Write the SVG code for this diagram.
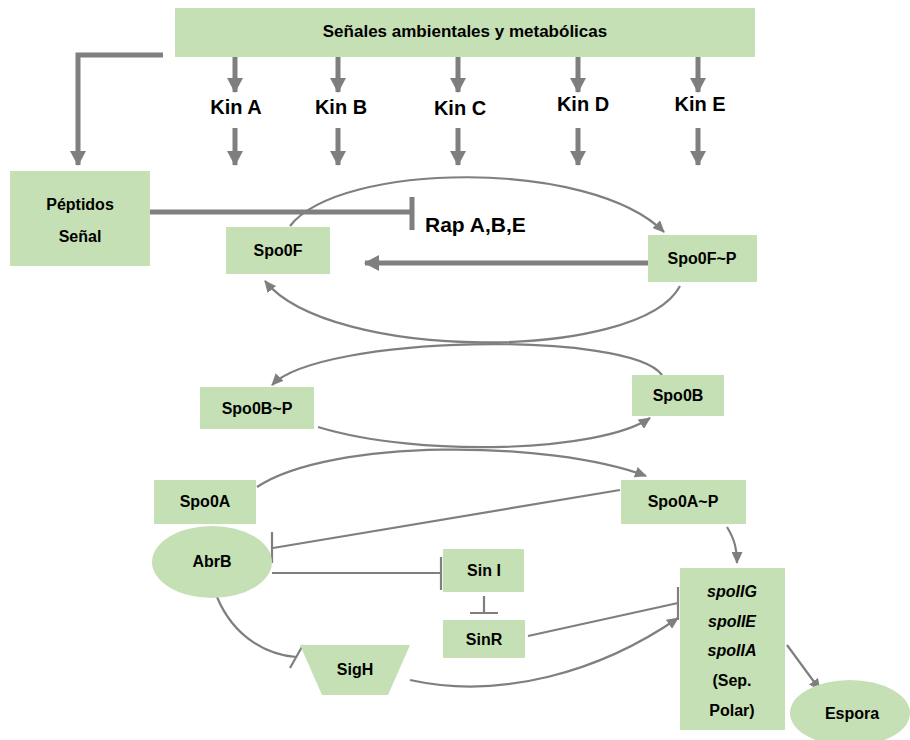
<svg xmlns="http://www.w3.org/2000/svg" width="910" height="740" viewBox="0 0 910 740">
<style>
.n{fill:#C5E0B4;stroke:none}
.t{font-family:"Liberation Sans",Arial,sans-serif;font-weight:bold;fill:#000;text-anchor:middle}
.s{font-size:16px}
.k{font-size:20px}
.thick{stroke:#7F7F7F;stroke-width:5;fill:none}
.thin{stroke:#7F7F7F;stroke-width:2.2;fill:none}
</style>
<defs>
<marker id="ah" markerUnits="userSpaceOnUse" markerWidth="16" markerHeight="16" refX="14" refY="8" orient="auto"><path d="M0,0 L15,8 L0,16 z" fill="#7F7F7F"/></marker>
<marker id="at" markerUnits="userSpaceOnUse" markerWidth="12" markerHeight="11" refX="11" refY="5.5" orient="auto"><path d="M0,0 L12,5.5 L0,11 z" fill="#7F7F7F"/></marker>
</defs>
<g id="connectors">
<path class="thick" d="M163,55 H78 V165" marker-end="url(#ah)"/>
<path class="thick" d="M235,57 V92" marker-end="url(#ah)"/>
<path class="thick" d="M338,57 V92" marker-end="url(#ah)"/>
<path class="thick" d="M458,57 V92" marker-end="url(#ah)"/>
<path class="thick" d="M578,57 V92" marker-end="url(#ah)"/>
<path class="thick" d="M698,57 V92" marker-end="url(#ah)"/>
<path class="thick" d="M235,128 V165" marker-end="url(#ah)"/>
<path class="thick" d="M338,128 V165" marker-end="url(#ah)"/>
<path class="thick" d="M458,128 V165" marker-end="url(#ah)"/>
<path class="thick" d="M578,128 V165" marker-end="url(#ah)"/>
<path class="thick" d="M698,128 V165" marker-end="url(#ah)"/>
<path class="thin" d="M290,226 C340,162 590,158 664,232" marker-end="url(#at)"/>
<path class="thin" d="M680,286 C640,362 330,362 265,281" marker-end="url(#at)"/>
<path class="thick" d="M648,263 H365" marker-end="url(#ah)"/>
<path class="thick" d="M150,212 H411 M412,197 V230"/>
<path class="thin" d="M662,375 C630,330 320,335 272,385" marker-end="url(#at)"/>
<path class="thin" d="M318,427 C420,458 600,452 650,418" marker-end="url(#at)"/>
<path class="thin" d="M257,487 C330,438 550,440 646,476" marker-end="url(#at)"/>
<path class="thin" d="M620,490 L273,548 M272,532 V563"/>
<path class="thin" d="M272,573 H441 M441,557 V590"/>
<path class="thin" d="M484,596 V613 M470,613 H498"/>
<path class="thin" d="M528,636 L678,603 M678,587 V620"/>
<path class="thin" d="M217,597 C235,640 270,655 296,657 M290,668 L303,645"/>
<path class="thin" d="M410,680 C500,700 600,672 678,618" marker-end="url(#at)"/>
<path class="thin" d="M727,527 C735,540 737,550 737,563" marker-end="url(#at)"/>
<path class="thin" d="M787,645 L820,690" marker-end="url(#at)"/>
</g>
<g id="senales"><rect class="n" x="175" y="8" width="580" height="49"/><text class="t" x="465" y="37" font-size="17">Señales ambientales y metabólicas</text></g>
<g id="kinA"><text class="t k" x="236" y="114">Kin A</text></g>
<g id="kinB"><text class="t k" x="341" y="114">Kin B</text></g>
<g id="kinC"><text class="t k" x="460" y="115">Kin C</text></g>
<g id="kinD"><text class="t k" x="583" y="111">Kin D</text></g>
<g id="kinE"><text class="t k" x="700" y="111">Kin E</text></g>
<g id="peptidos"><rect class="n" x="10" y="171" width="140" height="95"/><text class="t s" x="80" y="210">Péptidos</text><text class="t s" x="80" y="242">Señal</text></g>
<g id="rap"><text class="t" x="425" y="232" font-size="21" style="text-anchor:start">Rap A,B,E</text></g>
<g id="spo0F"><rect class="n" x="226" y="227" width="104" height="47"/><text class="t s" x="278" y="256">Spo0F</text></g>
<g id="spo0FP"><rect class="n" x="648" y="235" width="109" height="47"/><text class="t s" x="702" y="264">Spo0F~P</text></g>
<g id="spo0BP"><rect class="n" x="200" y="387" width="114" height="42"/><text class="t s" x="257" y="414">Spo0B~P</text></g>
<g id="spo0B"><rect class="n" x="632" y="375" width="92" height="41"/><text class="t s" x="678" y="401">Spo0B</text></g>
<g id="spo0A"><rect class="n" x="154" y="480" width="102" height="44"/><text class="t s" x="205" y="507">Spo0A</text></g>
<g id="spo0AP"><rect class="n" x="621" y="480" width="125" height="44"/><text class="t s" x="683" y="507">Spo0A~P</text></g>
<g id="abrB"><ellipse class="n" cx="212" cy="562" rx="60" ry="36"/><text class="t s" x="212" y="567">AbrB</text></g>
<g id="sinI"><rect class="n" x="443" y="549" width="81" height="43"/><text class="t s" x="484" y="576">Sin I</text></g>
<g id="sinR"><rect class="n" x="443" y="620" width="82" height="38"/><text class="t s" x="484" y="645">SinR</text></g>
<g id="sigH"><polygon class="n" points="300,645 410,645 388,695 322,695"/><text class="t s" x="355" y="675">SigH</text></g>
<g id="spoII"><rect class="n" x="680" y="568" width="105" height="162"/>
<text class="t s" x="732" y="597" font-style="italic">spoIIG</text>
<text class="t s" x="732" y="627" font-style="italic">spoIIE</text>
<text class="t s" x="732" y="656" font-style="italic">spoIIA</text>
<text class="t s" x="732" y="686">(Sep.</text>
<text class="t s" x="732" y="716">Polar)</text></g>
<g id="espora"><ellipse class="n" cx="850" cy="713" rx="60" ry="33"/><text class="t s" x="852" y="719">Espora</text></g>
</svg>
